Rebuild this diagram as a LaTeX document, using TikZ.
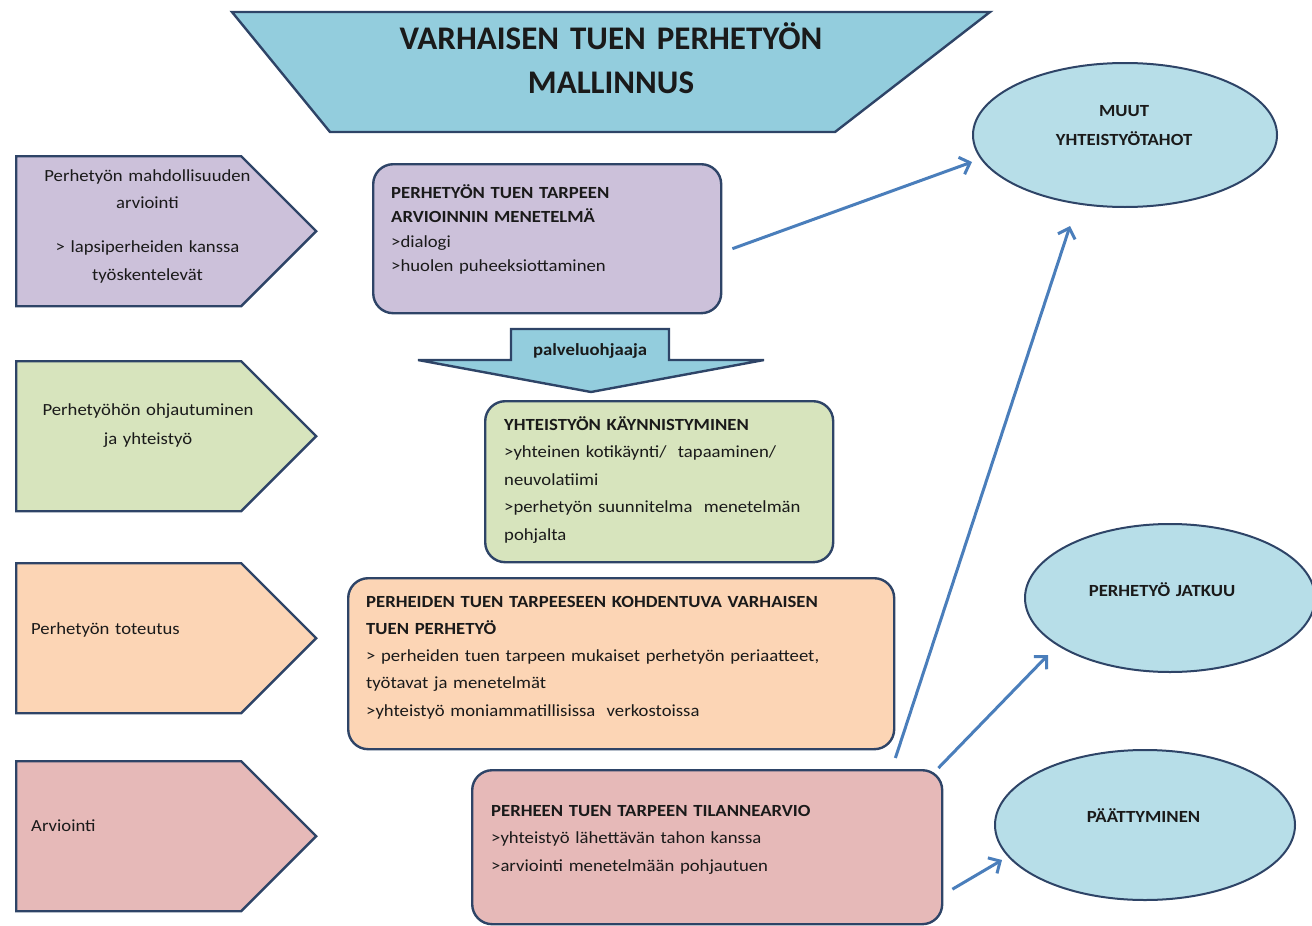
\documentclass[tikz,border=0pt]{standalone}
\usepackage{fontspec}
\setmainfont{Carlito}
\newfontfamily\labelfont{Carlito}[FakeStretch=1.1]
\usetikzlibrary{shapes.geometric,shapes.symbols,arrows.meta}

\definecolor{edge}{HTML}{2E4467}
\definecolor{lavender}{HTML}{CCC1DA}
\definecolor{sage}{HTML}{D7E4BD}
\definecolor{peach}{HTML}{FCD5B5}
\definecolor{rose}{HTML}{E6B9B8}
\definecolor{sky}{HTML}{B7DEE8}
\definecolor{teal}{HTML}{93CDDD}
\definecolor{flowblue}{HTML}{4A7EBB}
\definecolor{ink}{HTML}{1A1A1A}

\newcommand{\bodysize}[1]{\labelfont\fontsize{17}{#1}\selectfont}

\tikzset{
  stage/.style={signal, signal to=east, signal pointer angle=90, draw=edge,
    line width=2.4pt, minimum width=300pt, minimum height=150pt, inner sep=0pt,
    anchor=north west, fill=#1},
  card/.style={rectangle, rounded corners=20pt, draw=edge, line width=2.4pt,
    inner sep=0pt, anchor=north west, fill=#1},
  oval/.style={ellipse, draw=edge, line width=2pt, fill=sky, inner sep=0pt},
  body/.style={anchor=base west, align=left, inner sep=0pt, text width=#1, text=ink},
  centred/.style={anchor=base, align=center, inner sep=0pt, text width=#1, text=ink},
  flow/.style={draw=flowblue, line width=3pt,
    -{Straight Barb[length=9pt,width=18pt]}},
  outline/.style={draw=edge, line width=2.4pt, fill=teal, line join=miter}
}

\begin{document}
\begin{tikzpicture}[x=1pt,y=-1pt]
\useasboundingbox (0,0) rectangle (1312,926);

% title banner
\draw[outline] (232,12) -- (990,12) -- (835,132) -- (330,132) -- cycle;
\node[centred=600pt, font={\bfseries\fontsize{33}{44}\selectfont}] (title) at (611,49.5)
  {VARHAISEN TUEN PERHETYÖN\\MALLINNUS};

% phase pentagons on the left
\node[stage=lavender] (p1) at (15,155) {};
\node[stage=sage]     (p2) at (15,360) {};
\node[stage=peach]    (p3) at (15,562) {};
\node[stage=rose]     (p4) at (15,760) {};

\node[centred=280pt, font=\bodysize{27.5}] (p1t) at (147.5,181)
  {Perhetyön mahdollisuuden\\arviointi\\[16.5pt]> lapsiperheiden kanssa\\työskentelevät};
\node[centred=280pt, font=\bodysize{29}] (p2t) at (148,415)
  {Perhetyöhön ohjautuminen\\ja yhteistyö};
\node[body=220pt, font=\bodysize{27}] (p3t) at (31,634) {Perhetyön toteutus};
\node[body=220pt, font=\bodysize{27}] (p4t) at (31,831) {Arviointi};

% content cards
\node[card=lavender, minimum width=348pt, minimum height=149pt] (A) at (372,163) {};
\node[body=320pt, font=\bodysize{24.5}] (At) at (391,198)
  {\textbf{PERHETYÖN TUEN TARPEEN}\\\textbf{ARVIOINNIN MENETELMÄ}\\>dialogi\\>huolen puheeksiottaminen};

\draw[outline] (511,329) -- (669,329) -- (669,360) -- (764,360) -- (591,392)
  -- (418,360) -- (511,360) -- cycle;
\node[centred=200pt, font={\bodysize{20}\bfseries}] (guide) at (590,355) {palveluohjaaja};

\node[card=sage, minimum width=348pt, minimum height=161pt] (B) at (484,400) {};
\node[body=320pt, font=\bodysize{27.5}] (Bt) at (504,430)
  {\textbf{YHTEISTYÖN KÄYNNISTYMINEN}\\>yhteinen kotikäynti/\ \ tapaaminen/\\neuvolatiimi\\>perhetyön suunnitelma\ \ menetelmän\\pohjalta};

\node[card=peach, minimum width=546pt, minimum height=171pt] (C) at (347,577) {};
\node[body=530pt, font=\bodysize{27.3}] (Ct) at (366,607)
  {\textbf{PERHEIDEN TUEN TARPEESEEN KOHDENTUVA VARHAISEN}\\\textbf{TUEN PERHETYÖ}\\> perheiden tuen tarpeen mukaiset perhetyön periaatteet,\\työtavat ja menetelmät\\>yhteistyö moniammatillisissa\ \ verkostoissa};

\node[card=rose, minimum width=470pt, minimum height=154pt] (D) at (471,769) {};
\node[body=440pt, font=\bodysize{27.5}] (Dt) at (491,816)
  {\textbf{PERHEEN TUEN TARPEEN TILANNEARVIO}\\>yhteistyö lähettävän tahon kanssa\\>arviointi menetelmään pohjautuen};

% outcome ellipses
\node[oval, minimum width=304pt, minimum height=144pt] (E1) at (1125,135) {};
\node[centred=280pt, font={\bodysize{29}\bfseries}] (E1t) at (1124,116)
  {MUUT\\YHTEISTYÖTAHOT};
\node[oval, minimum width=290pt, minimum height=148pt] (E2) at (1170,598) {};
\node[centred=280pt, font={\bodysize{29}\bfseries}] (E2t) at (1162,596) {PERHETYÖ JATKUU};
\node[oval, minimum width=300pt, minimum height=150pt] (E3) at (1145,825) {};
\node[centred=280pt, font={\bodysize{29}\bfseries}] (E3t) at (1143.5,822) {PÄÄTTYMINEN};

% connector ends
\coordinate (s1) at ([shift={(10,10)}]A.east);
\coordinate (t1) at ([shift={(-153,27)}]E1.center);
\coordinate (s2) at ([shift={(-48,-11)}]D.north east);
\coordinate (t2) at ([shift={(-55,18)}]E1.south);
\coordinate (s3) at ([shift={(-5,-1)}]D.north east);
\coordinate (t3) at ([shift={(-122,57)}]E2.center);
\coordinate (s4) at ([shift={(9,42)}]D.east);
\coordinate (t4) at ([shift={(-143,35)}]E3.center);

\draw[flow] (s1) -- (t1);
\draw[flow] (s2) -- (t2);
\draw[flow] (s3) -- (t3);
\draw[flow] (s4) -- (t4);
\end{tikzpicture}
\end{document}
